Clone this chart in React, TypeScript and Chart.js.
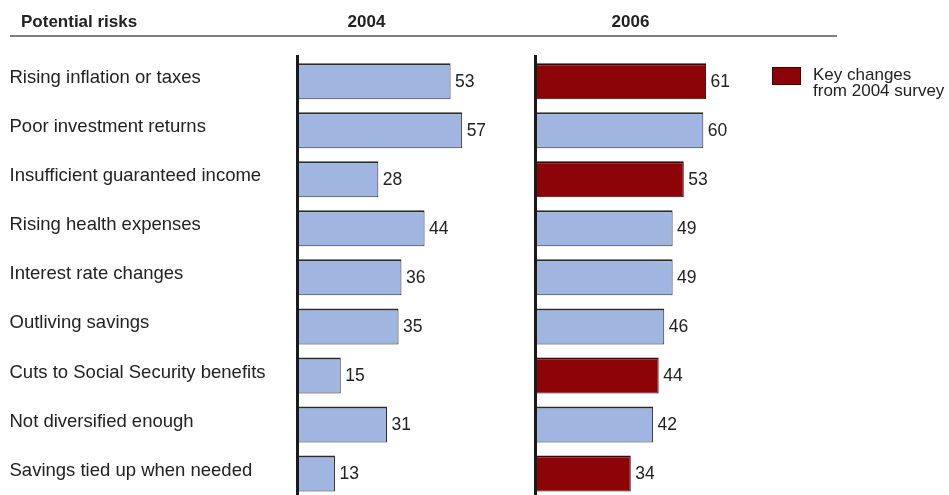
import React, { useEffect, useRef } from 'react';
import { Chart, registerables } from 'chart.js';

Chart.register(...registerables);

// ---- data ----
const categories = [
  'Rising inflation or taxes',
  'Poor investment returns',
  'Insufficient guaranteed income',
  'Rising health expenses',
  'Interest rate changes',
  'Outliving savings',
  'Cuts to Social Security benefits',
  'Not diversified enough',
  'Savings tied up when needed',
];
const values2004 = [53, 57, 28, 44, 36, 35, 15, 31, 13];
const values2006 = [61, 60, 53, 49, 49, 46, 44, 42, 34];
const keyChange2006 = [true, false, true, false, false, false, true, false, true];
const headerLabels = ['Potential risks', '2004', '2006'];
const legendLines = ['Key changes', 'from 2004 survey'];

// ---- style ----
const BLUE = '#a0b6e0';
const RED = '#8c0408';
const BLUE_EDGE = '#2b2b2b';
const RED_EDGE = '#3a0505';
const TEXT = '#222222';
const FONT = "'Liberation Sans', Arial, Helvetica, sans-serif";

const valueLabels = {
  id: 'valueLabels',
  afterDatasetsDraw(chart: any) {
    const ctx = chart.ctx;
    ctx.save();
    ctx.font = `17.5px ${FONT}`;
    ctx.fillStyle = TEXT;
    ctx.textAlign = 'left';
    ctx.textBaseline = 'middle';
    const meta = chart.getDatasetMeta(0);
    meta.data.forEach((bar: any, i: number) => {
      const v = chart.data.datasets[0].data[i];
      ctx.fillText(String(v), bar.x + 4.5, bar.y + 1);
    });
    ctx.restore();
  },
};

const headerAndLegend = {
  id: 'headerAndLegend',
  afterDraw(chart: any) {
    const ctx = chart.ctx;
    ctx.save();
    ctx.fillStyle = TEXT;
    ctx.font = `bold 17px ${FONT}`;
    ctx.textBaseline = 'alphabetic';
    ctx.textAlign = 'left';
    ctx.fillText(headerLabels[0], 21, 27);
    ctx.textAlign = 'center';
    ctx.fillText(headerLabels[1], 366.5, 27);
    ctx.fillText(headerLabels[2], 630.5, 27);

    ctx.strokeStyle = '#555555';
    ctx.lineWidth = 1.5;
    ctx.beginPath();
    ctx.moveTo(10, 36);
    ctx.lineTo(837, 36);
    ctx.stroke();

    // legend
    ctx.fillStyle = RED;
    ctx.fillRect(772, 67, 29, 18);
    ctx.strokeStyle = RED_EDGE;
    ctx.lineWidth = 1;
    ctx.strokeRect(772.5, 67.5, 28, 17);
    ctx.fillStyle = TEXT;
    ctx.font = `17px ${FONT}`;
    ctx.textAlign = 'left';
    ctx.fillText(legendLines[0], 813, 80);
    ctx.fillText(legendLines[1], 813, 96);
    ctx.restore();
  },
};

export default function App() {
  const ref1 = useRef<HTMLCanvasElement>(null);
  const ref2 = useRef<HTMLCanvasElement>(null);

  useEffect(() => {
    document.body.style.margin = '0';
    const border = { display: true, color: '#1a1a1a', width: 3, z: 1 };

    const c1 = new Chart(ref1.current as HTMLCanvasElement, {
      type: 'bar',
      data: {
        labels: categories,
        datasets: [
          {
            data: values2004,
            backgroundColor: BLUE,
            borderColor: BLUE_EDGE,
            borderWidth: { top: 2, right: 1, bottom: 1, left: 0 },
            borderSkipped: 'start',
            barPercentage: 0.734,
            categoryPercentage: 1,
          },
        ],
      },
      options: {
        indexAxis: 'y',
        responsive: false,
        animation: false,
        devicePixelRatio: 1,
        layout: { padding: { left: 9.5, right: 420.4, top: 56.7, bottom: 2 } },
        plugins: { legend: { display: false }, tooltip: { enabled: false } },
        scales: {
          x: { display: false, min: 0, max: 80 },
          y: {
            grid: { display: false },
            border,
            ticks: {
              crossAlign: 'far',
              color: TEXT,
              font: { size: 18.5, family: FONT, lineHeight: 0.2 },
              labelOffset: -3,
              padding: 0,
            },
            afterFit: (s: any) => {
              s.width = 287.9;
            },
          },
        },
      } as any,
      plugins: [valueLabels, headerAndLegend],
    });

    const c2 = new Chart(ref2.current as HTMLCanvasElement, {
      type: 'bar',
      data: {
        labels: categories,
        datasets: [
          {
            data: values2006,
            backgroundColor: keyChange2006.map((k) => (k ? RED : BLUE)),
            borderColor: keyChange2006.map((k) => (k ? RED_EDGE : BLUE_EDGE)),
            borderWidth: { top: 2, right: 1, bottom: 1, left: 0 },
            borderSkipped: 'start',
            barPercentage: 0.734,
            categoryPercentage: 1,
          },
        ],
      },
      options: {
        indexAxis: 'y',
        responsive: false,
        animation: false,
        devicePixelRatio: 1,
        layout: { padding: { left: 0, right: 189.9, top: 56.7, bottom: 2 } },
        plugins: { legend: { display: false }, tooltip: { enabled: false } },
        scales: {
          x: { display: false, min: 0, max: 80 },
          y: {
            grid: { display: false },
            border,
            ticks: { display: false },
            afterFit: (s: any) => {
              s.width = 15.9;
            },
          },
        },
      } as any,
      plugins: [valueLabels],
    });

    return () => {
      c1.destroy();
      c2.destroy();
    };
  }, []);

  return (
    <div
      style={{
        position: 'relative',
        width: 949,
        height: 495,
        overflow: 'hidden',
        background: '#ffffff',
      }}
    >
      <canvas
        ref={ref1}
        width={949}
        height={500}
        style={{ position: 'absolute', left: 0, top: 0, width: 949, height: 500 }}
      />
      <canvas
        ref={ref2}
        width={429}
        height={500}
        style={{ position: 'absolute', left: 520, top: 0, width: 429, height: 500 }}
      />
    </div>
  );
}
